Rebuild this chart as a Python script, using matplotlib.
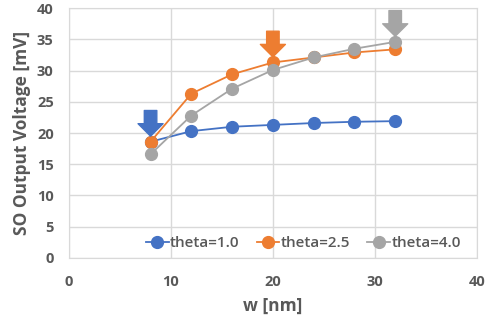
import matplotlib.pyplot as plt

w = [8, 12, 16, 20, 24, 28, 32]
theta_10 = [18.6, 20.3, 21.0, 21.3, 21.6, 21.8, 21.9]
theta_25 = [18.6, 26.3, 29.4, 31.3, 32.1, 32.9, 33.4]
theta_40 = [16.6, 22.8, 27.1, 30.1, 32.1, 33.5, 34.6]
labels = ["theta=1.0", "theta=2.5", "theta=4.0"]
colors = ["#4472C4", "#ED7D31", "#A5A5A5"]
# index of the point each arrow marks
arrow_idx = [0, 3, 6]

plt.rcParams["font.family"] = ["Open Sans", "DejaVu Sans"]
text_c = "#595959"

fig = plt.figure(figsize=(4.86, 3.26), dpi=100)
ax = fig.add_axes([0.142, 0.209, 0.839, 0.766])

series = [theta_10, theta_25, theta_40]
for ys, lab, c in zip(series, labels, colors):
    ax.plot(w, ys, "-o", color=c, lw=1.3, ms=8.5, label=lab, zorder=3)

# block arrows pointing down at chosen points
for ys, c, i in zip(series, colors, arrow_idx):
    top = max(s[i] for s in series)
    ax.annotate("", xy=(w[i], top), xytext=(0, 22.5), textcoords="offset points",
                arrowprops=dict(arrowstyle="simple,head_width=1.8,head_length=0.9,tail_width=0.9",
                                color=c, shrinkA=0, shrinkB=4, mutation_scale=10), zorder=4)

ax.set_xlim(0, 40)
ax.set_ylim(0, 40)
ax.set_xticks(range(0, 41, 10))
ax.set_yticks(range(0, 41, 5))
ax.grid(True, color="#D9D9D9", lw=1)
ax.set_axisbelow(True)
for s in ax.spines.values():
    s.set_color("#D9D9D9")
ax.tick_params(length=0, labelsize=10.5, labelcolor=text_c)
ax.tick_params(axis="x", pad=12)
ax.tick_params(axis="y", pad=11)
for t in ax.get_xticklabels() + ax.get_yticklabels():
    t.set_fontweight("bold")

ax.set_xlabel("w [nm]", fontsize=12.5, fontweight="bold", color=text_c, labelpad=6)
ax.set_ylabel("SO Output Voltage [mV]", fontsize=12.5, fontweight="bold", color=text_c, labelpad=4)

leg = ax.legend(loc="center", bbox_to_anchor=(0.575, 0.06), ncol=3, frameon=False,
                handlelength=1.5, handletextpad=0.1, columnspacing=1.1,
                prop={"weight": "semibold", "size": 11})
for t in leg.get_texts():
    t.set_color(text_c)

fig.savefig("out.png", dpi=100)
